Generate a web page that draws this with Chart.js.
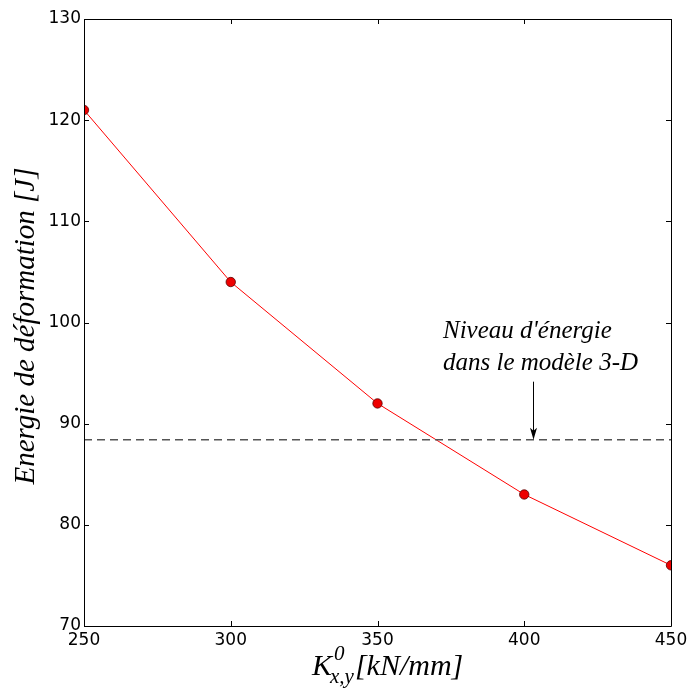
<!DOCTYPE html>
<html>
<head>
<meta charset="utf-8">
<script src="https://cdn.jsdelivr.net/npm/chart.js@4/dist/chart.umd.min.js"></script>
<style>
  html, body { margin: 0; padding: 0; background: #fff; }
  #wrap { width: 692px; height: 688px; }
</style>
</head>
<body>
<div id="wrap"><canvas id="c" width="692" height="688"></canvas></div>
<script>
// ---- data ----
const stiffness = [250, 300, 350, 400, 450];          // K0_x,y [kN/mm]
const energy = [121, 104, 92, 83, 76];                // Energie de déformation [J]
const refLevelX = [250, 450];
const refLevel = [88.4, 88.4];                        // Niveau d'énergie modèle 3-D
const xTickValues = [250, 300, 350, 400, 450];
const yTickValues = [70, 80, 90, 100, 110, 120, 130];
const yTitle = "Energie de déformation [J]";
const xTitleMain = "K";
const xTitleSup = "0";
const xTitleSub = "x,y";
const xTitleRest = "[kN/mm]";
const noteLines = ["Niveau d'énergie", "dans le modèle 3-D"];
const noteAnchor = { x: 372.3, y: [98.5, 95.3] };
const arrowAnchor = { x: 403, yTop: 94.15, yTip: 88.4 };

const mainPts = stiffness.map((x, i) => ({ x, y: energy[i] }));
const refPts = refLevelX.map((x, i) => ({ x, y: refLevel[i] }));

const decor = {
  id: 'decor',
  afterDatasetsDraw(chart) {
    const ctx = chart.ctx;
    const a = chart.chartArea;
    const xs = chart.scales.x, ys = chart.scales.y;
    ctx.save();
    // frame
    ctx.strokeStyle = '#000';
    ctx.lineWidth = 1;
    ctx.beginPath();
    ctx.rect(Math.round(a.left) + 0.5, Math.round(a.top) + 0.5,
             Math.round(a.right) - Math.round(a.left), Math.round(a.bottom) - Math.round(a.top));
    ctx.stroke();
    // inner ticks
    const tl = 5;
    ctx.beginPath();
    yTickValues.forEach(v => {
      const y = Math.round(ys.getPixelForValue(v)) + 0.5;
      ctx.moveTo(a.left, y); ctx.lineTo(a.left + tl, y);
      ctx.moveTo(a.right, y); ctx.lineTo(a.right - tl, y);
    });
    xTickValues.forEach(v => {
      const x = Math.round(xs.getPixelForValue(v)) + 0.5;
      ctx.moveTo(x, a.bottom); ctx.lineTo(x, a.bottom - tl);
      ctx.moveTo(x, a.top); ctx.lineTo(x, a.top + tl);
    });
    ctx.stroke();
    // annotation text
    ctx.fillStyle = '#000';
    ctx.textAlign = 'left';
    ctx.textBaseline = 'alphabetic';
    const nx = xs.getPixelForValue(noteAnchor.x);
    ctx.font = 'italic 25px "Liberation Serif"';
    noteLines.forEach((t, i) => ctx.fillText(t, nx, ys.getPixelForValue(noteAnchor.y[i])));
    // arrow
    const ax = Math.round(xs.getPixelForValue(arrowAnchor.x)) + 0.5;
    const ay0 = ys.getPixelForValue(arrowAnchor.yTop);
    const ay1 = ys.getPixelForValue(arrowAnchor.yTip);
    ctx.beginPath();
    ctx.moveTo(ax, ay0); ctx.lineTo(ax, ay1 - 6);
    ctx.stroke();
    ctx.beginPath();
    ctx.moveTo(ax, ay1);
    ctx.lineTo(ax - 3.5, ay1 - 12);
    ctx.lineTo(ax, ay1 - 9);
    ctx.lineTo(ax + 3.5, ay1 - 12);
    ctx.closePath();
    ctx.fill();
    // y title
    ctx.save();
    ctx.translate(34, 326);
    ctx.rotate(-Math.PI / 2);
    ctx.font = 'italic 29px "Liberation Serif"';
    ctx.textAlign = 'center';
    ctx.fillText(yTitle, 0, 0);
    ctx.restore();
    // x title with super/subscript
    const bigF = 'italic 30px "Liberation Serif"';
    const smallF = 'italic 21px "Liberation Serif"';
    ctx.font = bigF;
    const wK = ctx.measureText(xTitleMain).width;
    ctx.font = smallF;
    const wSup = ctx.measureText(xTitleSup).width;
    const wSub = ctx.measureText(xTitleSub).width;
    const wS = Math.max(wSup, wSub);
    const base = 675;
    const x0 = 312;
    ctx.textAlign = 'left';
    ctx.font = bigF;
    ctx.fillText(xTitleMain, x0, base);
    ctx.font = smallF;
    ctx.fillText(xTitleSup, x0 + wK + 2, base - 15);
    ctx.fillText(xTitleSub, x0 + wK - 2, base + 8);
    ctx.font = bigF;
    ctx.fillText(xTitleRest, x0 + wK + wS - 1, base);
    ctx.restore();
  }
};

new Chart(document.getElementById('c'), {
  type: 'line',
  data: {
    datasets: [
      {
        data: refPts,
        borderColor: '#555',
        borderWidth: 1.5,
        borderDash: [8, 5],
        pointRadius: 0,
        fill: false
      },
      {
        data: mainPts,
        borderColor: '#ff0000',
        borderWidth: 1,
        backgroundColor: '#ff0000',
        pointBackgroundColor: '#ee0000',
        pointBorderColor: '#550000',
        pointBorderWidth: 0.8,
        pointRadius: 4.7,
        tension: 0,
        fill: false
      }
    ]
  },
  options: {
    responsive: false,
    animation: false,
    events: [],
    layout: { padding: { top: 19, right: 21, left: 0, bottom: 0 } },
    plugins: { legend: { display: false }, tooltip: { enabled: false }, title: { display: false } },
    scales: {
      x: {
        type: 'linear',
        min: 250, max: 450,
        afterFit(s) { s.height = 62; },
        afterBuildTicks(s) { s.ticks = xTickValues.map(v => ({ value: v })); },
        grid: { display: false, drawTicks: false },
        border: { display: false },
        ticks: {
          color: '#000',
          padding: 4,
          maxRotation: 0,
          font: { family: '"DejaVu Sans"', size: 17 }
        }
      },
      y: {
        type: 'linear',
        min: 70, max: 130,
        afterFit(s) { s.width = 84; },
        afterBuildTicks(s) { s.ticks = yTickValues.map(v => ({ value: v })); },
        grid: { display: false, drawTicks: false },
        border: { display: false },
        ticks: {
          color: '#000',
          padding: 3,
          font: { family: '"DejaVu Sans"', size: 17 }
        }
      }
    }
  },
  plugins: [decor]
});
</script>
</body>
</html>
